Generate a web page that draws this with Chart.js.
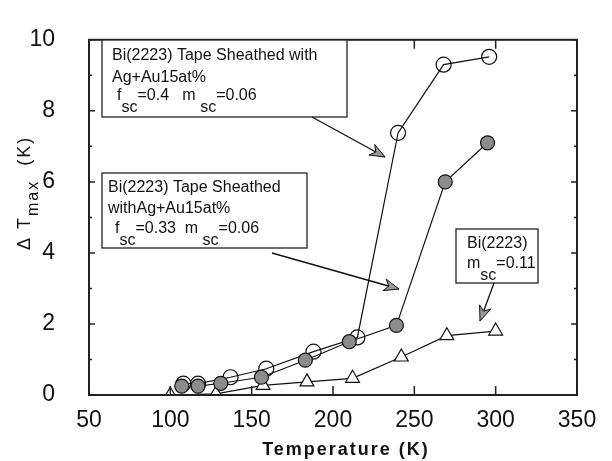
<!DOCTYPE html>
<html>
<head>
<meta charset="utf-8">
<script src="https://cdn.jsdelivr.net/npm/chart.js@4/dist/chart.umd.min.js"></script>
<style>
  html, body { margin: 0; padding: 0; background: #fff; }
  canvas { display: block; }
</style>
</head>
<body>
<canvas id="chart" width="612" height="461"></canvas>
<script>
// Dados
const xTicks = [50, 100, 150, 200, 250, 300, 350];
const yTicks = [0, 2, 4, 6, 8, 10];

// fsc=0.4, Ag+Au15at% (círculos abertos)
const tempOpen = [108, 117, 137, 159, 188, 215, 240, 268, 296];
const dtOpen = [0.32, 0.32, 0.5, 0.74, 1.22, 1.62, 7.38, 9.3, 9.52];

// fsc=0.33, Ag+Au15at% (círculos cheios)
const tempFilled = [107, 117, 131, 156, 183, 210, 239, 269, 295];
const dtFilled = [0.25, 0.25, 0.33, 0.5, 0.98, 1.5, 1.96, 6.0, 7.1];

// Bi(2223) msc=0.11 (triângulos)
const tempTri = [100, 128, 157, 184, 212, 242, 270, 300];
const dtTri = [0.0, 0.03, 0.27, 0.37, 0.47, 1.07, 1.67, 1.8];

const toPts = (xs, ys) => xs.map((x, i) => ({ x: x, y: ys[i] }));

const FONT = '"Liberation Sans", Arial, sans-serif';

// texto com subscritos: partes alternadas [normal, sub, normal, ...]
function drawRich(ctx, x, y, parts) {
    parts.forEach((p, i) => {
        const sub = i % 2 === 1;
        ctx.fillText(p, x, sub ? y + 12 : y);
        x += ctx.measureText(p).width;
    });
}

function arrow(ctx, x1, y1, x2, y2) {
    ctx.beginPath();
    ctx.moveTo(x1, y1);
    ctx.lineTo(x2, y2);
    ctx.lineWidth = 1.3;
    ctx.strokeStyle = '#111';
    ctx.stroke();
    const a = Math.atan2(y2 - y1, x2 - x1);
    const L = 15, W = 6;
    ctx.beginPath();
    ctx.moveTo(x2, y2);
    ctx.lineTo(x2 - L * Math.cos(a) + W * Math.sin(a), y2 - L * Math.sin(a) - W * Math.cos(a));
    ctx.lineTo(x2 - L * 0.7 * Math.cos(a), y2 - L * 0.7 * Math.sin(a));
    ctx.lineTo(x2 - L * Math.cos(a) - W * Math.sin(a), y2 - L * Math.sin(a) + W * Math.cos(a));
    ctx.closePath();
    ctx.fillStyle = '#999';
    ctx.fill();
    ctx.lineWidth = 1;
    ctx.stroke();
}

const framePlugin = {
    id: 'frame',
    afterDraw(chart) {
        const ctx = chart.ctx;
        const a = chart.chartArea;
        const xs = chart.scales.x, ys = chart.scales.y;
        ctx.save();
        ctx.strokeStyle = '#222';
        ctx.lineWidth = 2;
        ctx.strokeRect(a.left, a.top, a.right - a.left, a.bottom - a.top);

        // marcas internas
        ctx.lineWidth = 1.5;
        ctx.beginPath();
        xTicks.forEach(v => {
            const px = xs.getPixelForValue(v);
            ctx.moveTo(px, a.bottom); ctx.lineTo(px, a.bottom - 9);
            ctx.moveTo(px, a.top); ctx.lineTo(px, a.top + 9);
        });
        for (let v = 0; v <= 10; v++) {
            const py = ys.getPixelForValue(v);
            const len = v % 2 === 0 ? 6 : 3;
            ctx.moveTo(a.left, py); ctx.lineTo(a.left + len, py);
            ctx.moveTo(a.right, py); ctx.lineTo(a.right - len, py);
        }
        ctx.stroke();

        // títulos dos eixos
        ctx.fillStyle = '#111';
        ctx.textBaseline = 'alphabetic';
        ctx.font = 'bold 18px ' + FONT;
        ctx.letterSpacing = '2px';
        ctx.textAlign = 'center';
        ctx.fillText('Temperature (K)', 346, 455);
        ctx.letterSpacing = '0px';

        ctx.save();
        ctx.translate(30, 250);
        ctx.rotate(-Math.PI / 2);
        ctx.textAlign = 'left';
        ctx.font = '18px ' + FONT;
        ctx.letterSpacing = '2px';
        let w = ctx.measureText('\u0394 T').width;
        ctx.fillText('\u0394 T', 0, 0);
        ctx.font = '16px ' + FONT;
        ctx.fillText('max', w, 8);
        w += ctx.measureText('max').width;
        ctx.font = '18px ' + FONT;
        ctx.fillText('  (K)', w, 0);
        ctx.restore();
        ctx.letterSpacing = '0px';

        // caixas de anotação
        ctx.lineWidth = 1.3;
        ctx.strokeStyle = '#222';
        ctx.fillStyle = '#fff';
        [[102, 40, 245, 77], [102, 173, 205, 75], [456, 229, 82, 54]].forEach(b => {
            ctx.fillRect(b[0], b[1], b[2], b[3]);
            ctx.strokeRect(b[0], b[1], b[2], b[3]);
        });
        ctx.fillStyle = '#111';
        ctx.textAlign = 'left';
        ctx.font = '16px ' + FONT;
        ctx.fillText('Bi(2223) Tape Sheathed with', 112, 60);
        ctx.fillText('Ag+Au15at%', 112, 82);
        drawRich(ctx, 117, 100, ['f', 'sc', '=0.4   m ', 'sc', '=0.06']);
        ctx.fillText('Bi(2223) Tape Sheathed', 108, 192);
        ctx.fillText('withAg+Au15at%', 108, 213);
        drawRich(ctx, 115, 233, ['f', 'sc', '=0.33  m ', 'sc', '=0.06']);
        ctx.fillText('Bi(2223)', 467, 248);
        drawRich(ctx, 467, 268, ['m', 'sc', '=0.11']);

        arrow(ctx, 312, 117, 385, 157);
        arrow(ctx, 272, 253, 399, 289);
        arrow(ctx, 494, 283, 480, 321);
        ctx.restore();
    }
};

const ctx = document.getElementById('chart').getContext('2d');
const chart = new Chart(ctx, {
    type: 'scatter',
    data: {
        datasets: [{
            label: 'fsc=0.33',
            data: toPts(tempFilled, dtFilled),
            showLine: true,
            borderColor: '#111',
            borderWidth: 1.2,
            pointStyle: 'circle',
            pointRadius: 7,
            pointBackgroundColor: '#8c8c8c',
            pointBorderColor: '#111',
            pointBorderWidth: 1.2
        }, {
            label: 'fsc=0.4',
            data: toPts(tempOpen, dtOpen),
            showLine: true,
            borderColor: '#111',
            borderWidth: 1.2,
            pointStyle: 'circle',
            pointRadius: 7.5,
            pointBackgroundColor: 'rgba(255,255,255,0)',
            pointBorderColor: '#111',
            pointBorderWidth: 1.2
        }, {
            label: 'msc=0.11',
            data: toPts(tempTri, dtTri),
            showLine: true,
            borderColor: '#111',
            borderWidth: 1.2,
            pointStyle: 'triangle',
            pointRadius: 8,
            pointBackgroundColor: '#fff',
            pointBorderColor: '#111',
            pointBorderWidth: 1.2
        }]
    },
    options: {
        responsive: false,
        animation: false,
        devicePixelRatio: 1,
        layout: { padding: { left: 0, top: 18, right: 35, bottom: 0 } },
        plugins: {
            legend: { display: false },
            tooltip: { enabled: false }
        },
        scales: {
            x: {
                type: 'linear',
                min: 50,
                max: 350,
                afterBuildTicks: s => { s.ticks = xTicks.map(v => ({ value: v })); },
                afterFit: s => { s.height = 66; },
                grid: { display: false },
                border: { display: false },
                ticks: { color: '#111', padding: 4, font: { family: FONT, size: 23 } }
            },
            y: {
                type: 'linear',
                min: 0,
                max: 10,
                afterBuildTicks: s => { s.ticks = yTicks.map(v => ({ value: v })); },
                afterFit: s => { s.width = 89; },
                grid: { display: false },
                border: { display: false },
                ticks: { color: '#111', padding: 26, font: { family: FONT, size: 23 } }
            }
        }
    },
    plugins: [framePlugin]
});
</script>
</body>
</html>
